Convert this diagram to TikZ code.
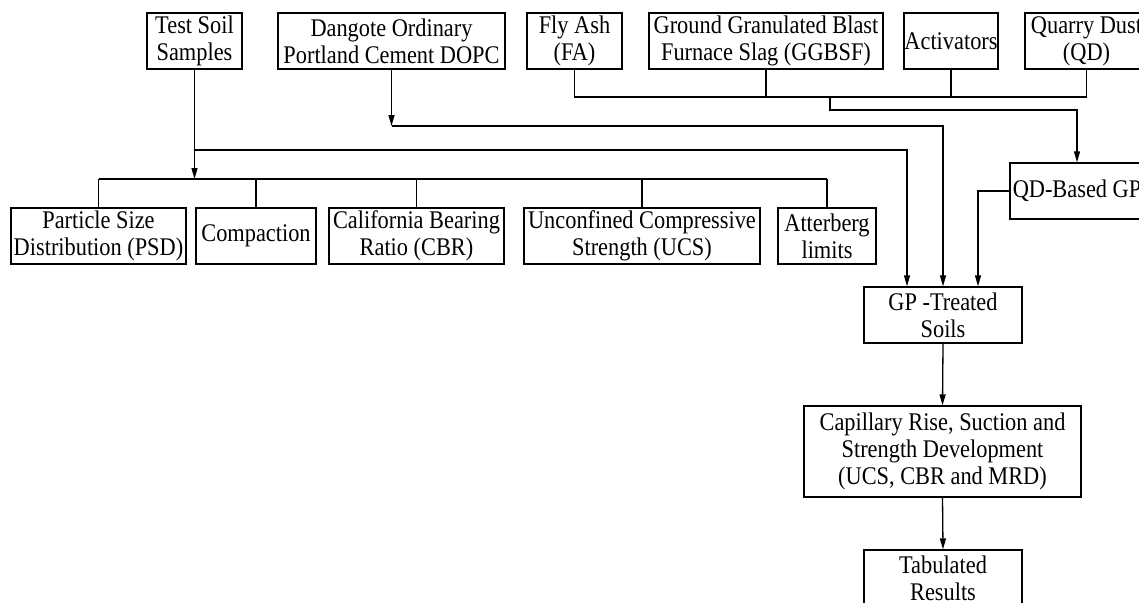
\documentclass[tikz,border=0pt]{standalone}
\usepackage{fontspec}
\setmainfont[FakeStretch=0.88]{Liberation Serif}
\usetikzlibrary{arrows.meta}
\begin{document}
\begin{tikzpicture}[x=1pt,y=-1pt,
  box/.style={draw, line width=1.3pt, inner sep=0pt, align=center,
    font=\fontsize{25.4}{27}\selectfont, minimum height=56pt},
  link/.style={line width=1.3pt},
  arr/.style={link, -{Triangle[length=11pt,width=6pt]}}]
\useasboundingbox (0,0) rectangle (1139,602);
\clip (0,0) rectangle (1139,602);
\fill[white] (0,0) rectangle (1139,602);
% top row
\node[box, minimum width=95pt]  (soil)  at (194.5,41) {Test Soil\\Samples};
\node[box, minimum width=227pt] (dopc)  at (391.5,41) {Dangote Ordinary\\Portland Cement DOPC};
\node[box, minimum width=95pt]  (fa)    at (574.5,41) {Fly Ash\\(FA)};
\node[box, minimum width=234pt] (ggbsf) at (766,41)   {Ground Granulated Blast\\Furnace Slag (GGBSF)};
\node[box, minimum width=94pt]  (act)   at (951,41)   {Activators};
\node[box, minimum width=123pt] (qd)    at (1086.5,41) {Quarry Dust\\(QD)};
% tests row
\node[box, minimum width=175pt] (psd)  at (98.5,236)  {Particle Size\\Distribution (PSD)};
\node[box, minimum width=120pt] (comp) at (256,236)   {Compaction};
\node[box, minimum width=175pt] (cbr)  at (416.5,236) {California Bearing\\Ratio (CBR)};
\node[box, minimum width=236pt] (ucs)  at (642,236)   {Unconfined Compressive\\Strength (UCS)};
\node[box, minimum width=98pt]  (att)  at (827,236)   {Atterberg\\limits};
% right column
\node[box, minimum width=134pt] (qdgp) at (1077,191) {QD-Based GP};
\node[box, minimum width=158pt] (gp)   at (943,315)  {GP -Treated\\Soils};
\node[box, minimum width=277pt, minimum height=91pt] (cap) at (942.5,451.5)
  {Capillary Rise, Suction and\\Strength Development\\(UCS, CBR and MRD)};
\node[box, minimum width=158pt] (tab)  at (943,578)  {Tabulated\\Results};
% coordinates
\coordinate (sj) at (194.5,150);
\coordinate (sb) at (194.5,179);
\coordinate (sr) at (907,150);
\coordinate (dk) at (391.5,126);
\coordinate (bb) at (575,97);
\coordinate (bj) at (830,97);
\coordinate (bk) at (830,110);
\coordinate (qk) at (978,191);
% soil samples
\draw[arr] (soil.south) -- (sb);
\draw[arr] (sj) -| (sr |- gp.north);
\draw[link] (psd.north |- sb) -- (att.north |- sb);
\foreach \n in {psd,comp,cbr,ucs,att} \draw[link] (\n.north) -- (\n.north |- sb);
% cement
\draw[arr] (dopc.south) -- (dk);
\draw[arr] (dk) -| (gp.north);
% binders
\draw[link] (fa.south) -- (fa.south |- bb) -- (qd.south |- bb) -- (qd.south);
\draw[link] (ggbsf.south) -- (ggbsf.south |- bb);
\draw[link] (act.south) -- (act.south |- bb);
\draw[arr] (bj) -- (bk) -| (qdgp.north);
\draw[arr] (qdgp.west) -- (qk) -- (qk |- gp.north);
% chain
\draw[arr] (gp.south) -- (cap.north);
\draw[arr] (cap.south) -- (tab.north);
\end{tikzpicture}
\end{document}
